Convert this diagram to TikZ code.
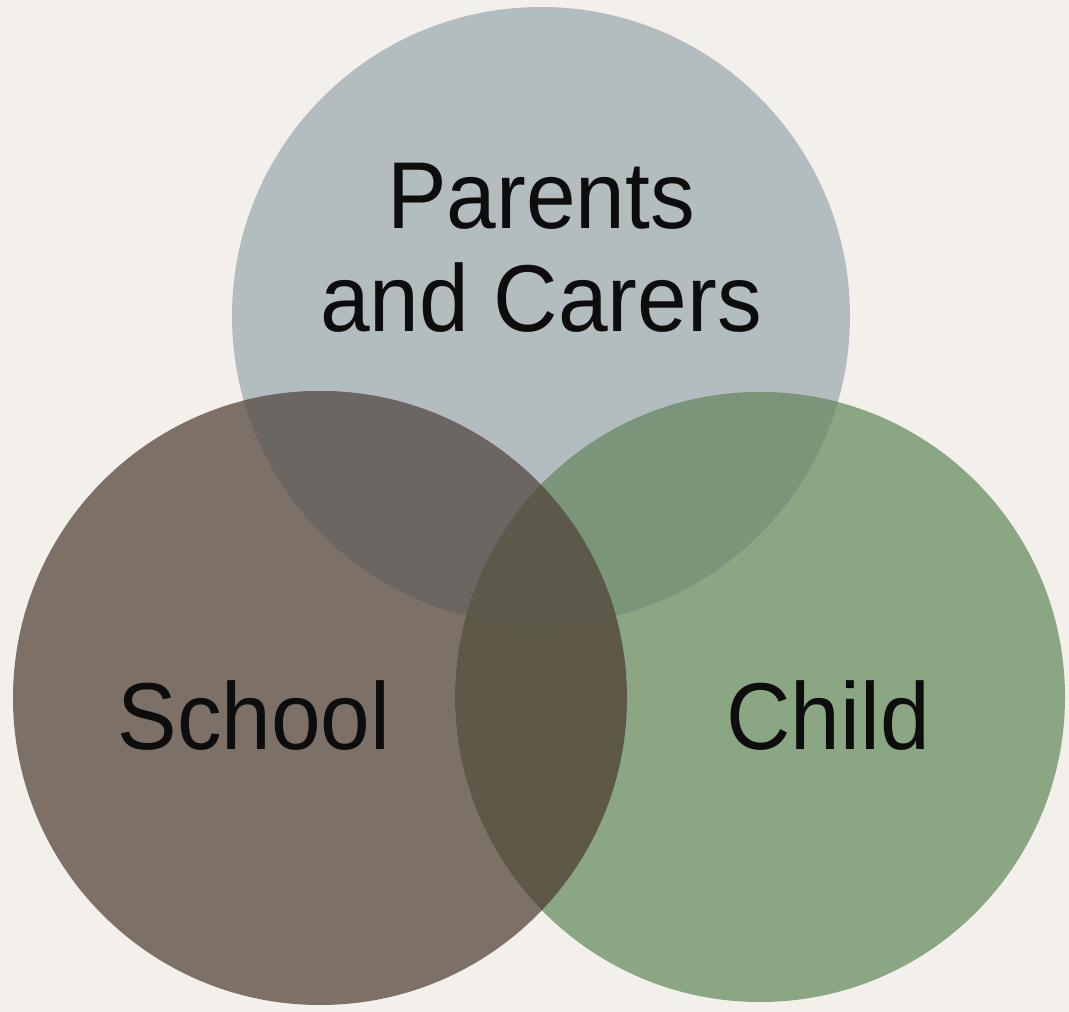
\documentclass[tikz,border=0pt]{standalone}
\usepackage{fontspec}
\setmainfont{Liberation Sans}[FakeStretch=0.94]
\definecolor{paper}{HTML}{F3EFEB}
\definecolor{parents}{HTML}{B3BCBE}
\definecolor{school}{HTML}{7C7067}
\definecolor{child}{HTML}{8BA683}
\definecolor{parentsschool}{HTML}{6B6661}
\definecolor{parentschild}{HTML}{7A957A}
\definecolor{schoolchild}{HTML}{5D5847}
\definecolor{allthree}{HTML}{5C594A}

\begin{document}
\begin{tikzpicture}[x=1pt, y=-1pt, circlabel/.style={font=\fontsize{95}{103}\selectfont, align=center, inner sep=0pt, text=black!95}]
\fill[paper] (0, 0) rectangle (1069, 1012);
%Depth 0
\fill[parents] (541, 316) circle (309);
\fill[school] (320, 698) circle (307);
\fill[child] (760, 697) circle (305);
%Depth 1
\begin{scope}
\clip (541, 316) circle (309);
\fill[parentsschool] (320, 698) circle (307);
\fill[parentschild] (760, 697) circle (305);
\end{scope}
\begin{scope}
\clip (320, 698) circle (307);
\fill[schoolchild] (760, 697) circle (305);
\end{scope}
%Depth 2
\begin{scope}
\clip (541, 316) circle (309);
\clip (320, 698) circle (307);
\fill[allthree] (760, 697) circle (305);
\end{scope}
%Labels
\node[circlabel] (parents) at (541, 248) {Parents\\and Carers};
\node[circlabel, anchor=base] (school) at (254, 749) {School};
\node[circlabel, anchor=base] (child) at (828, 749) {Child};
\end{tikzpicture}
\end{document}
